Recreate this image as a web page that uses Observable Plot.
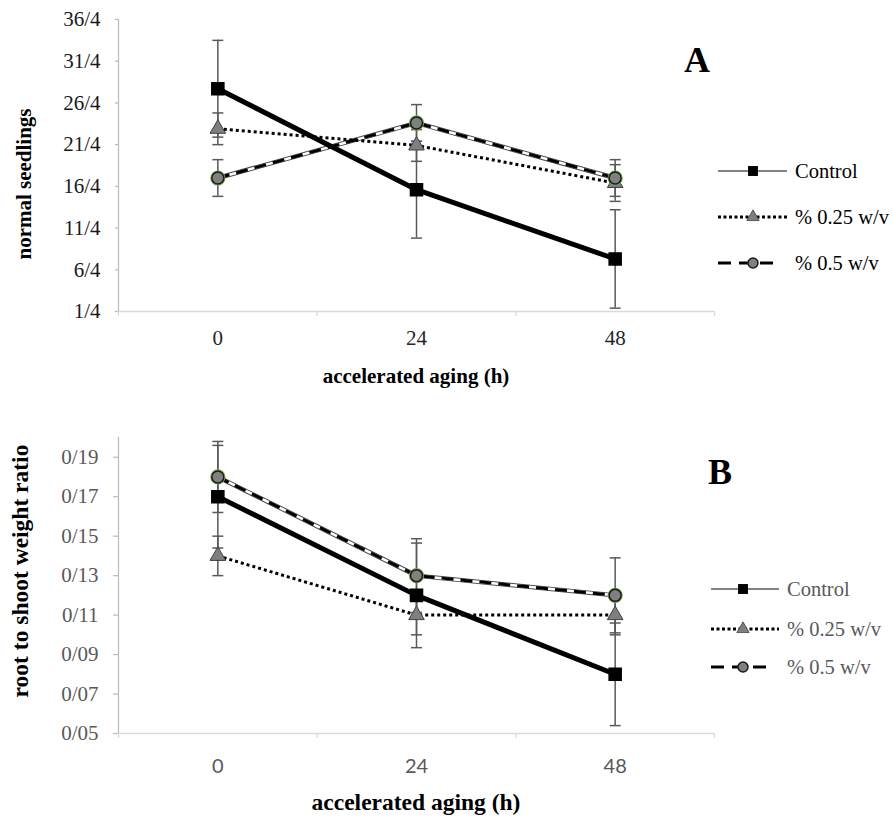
<!DOCTYPE html>
<html>
<head>
<meta charset="utf-8">
<script src="https://cdn.jsdelivr.net/npm/d3@7"></script>
<script src="https://cdn.jsdelivr.net/npm/@observablehq/plot@0.6"></script>
<style>
  body { margin: 0; background: #fff; }
  #chart { width: 893px; }
  #chart svg { display: block; }
</style>
</head>
<body>
<div id="chart"></div>
<script>
// ---------- data ----------
const hours = [0, 24, 48];
const boundaryHours = [-12, 12, 36, 60];
const seriesNames = ["Control", "% 0.25 w/v", "% 0.5 w/v"];

// Panel A: normal seedlings
const seedControl = [28.1, 16.0, 7.7];
const seedControlErr = [5.8, 5.8, 5.9];
const seed025 = [23.3, 21.3, 16.8];
const seed025Err = [1.9, 1.9, 2.2];
const seed05 = [17.4, 24.0, 17.4];
const seed05Err = [2.2, 2.2, 2.2];
const seedTicks = [1.4, 6.4, 11.4, 16.4, 21.4, 26.4, 31.4, 36.4];
const seedTickLabels = ["1/4", "6/4", "11/4", "16/4", "21/4", "26/4", "31/4", "36/4"];

// Panel B: root to shoot weight ratio
const ratioControl = [0.17, 0.12, 0.08];
const ratioControlErr = [0.026, 0.0265, 0.026];
const ratio025 = [0.14, 0.11, 0.11];
const ratio025Err = [0.01, 0.01, 0.01];
const ratio05 = [0.18, 0.13, 0.12];
const ratio05Err = [0.018, 0.0187, 0.019];
const ratioTicks = [0.05, 0.07, 0.09, 0.11, 0.13, 0.15, 0.17, 0.19];
const ratioTickLabels = ["0/05", "0/07", "0/09", "0/11", "0/13", "0/15", "0/17", "0/19"];

// ---------- helpers ----------
const SERIF = "Liberation Serif";
const rows = (vals, errs, series) => hours.map((h, i) => ({hour: h, value: vals[i], err: errs[i], series}));
const capSymbol = {draw(ctx, size) { const w = Math.sqrt(size); ctx.moveTo(-w / 2, 0); ctx.lineTo(w / 2, 0); }};

function makePanel(cfg) {
  const ctrl = rows(cfg.ctrl, cfg.ctrlErr, seriesNames[0]);
  const low = rows(cfg.low, cfg.lowErr, seriesNames[1]);
  const high = rows(cfg.high, cfg.highErr, seriesNames[2]);
  const all = [...ctrl, ...low, ...high];
  const xy = {x: "hour", y: "value"};
  const y0 = cfg.yDomain[0];
  const xTickData = hours.map(h => ({h, y: y0}));
  const yTickData = cfg.yTicks.map((v, i) => ({v, label: cfg.yLabels[i], x: -12}));
  const svgEl = Plot.plot({
    width: 893,
    height: cfg.height,
    marginLeft: 118,
    marginRight: 179,
    marginTop: cfg.marginTop,
    marginBottom: cfg.marginBottom,
    x: {type: "linear", domain: [-12, 60], label: null, axis: null},
    y: {type: "linear", domain: cfg.yDomain, label: null, axis: null},
    style: {fontFamily: SERIF, fontSize: "21px", background: "#fff", overflow: "visible"},
    marks: [
      Plot.ruleY([y0], {stroke: "#d9d9d9", strokeWidth: 1.6}),
      Plot.ruleX([-12], {stroke: "#bfbfbf", strokeWidth: 1.3}),
      Plot.axisX({ticks: boundaryHours, tickSize: 5, tickFormat: () => "", stroke: "#d9d9d9", strokeWidth: 1.3, label: null}),
      Plot.axisY({ticks: cfg.yTicks, tickSize: cfg.yTickLen, tickFormat: () => "", stroke: "#bfbfbf", strokeWidth: 1.3, label: null}),
      // tick labels
      Plot.text(xTickData, {x: "h", y: "y", text: d => String(d.h), lineAnchor: "top", dy: cfg.xPad, textAnchor: "middle",
        fill: cfg.xTickColor, fontSize: cfg.xTickSize, fontFamily: cfg.xTickFont}),
      Plot.text(yTickData, {x: "x", y: "v", text: "label", textAnchor: "end", lineAnchor: "middle", dx: -cfg.yPad,
        fill: cfg.yTickColor, fontSize: 21, fontFamily: SERIF}),
      // error bars
      Plot.ruleX(all, {x: "hour", y1: d => d.value - d.err, y2: d => d.value + d.err, stroke: "#595959", strokeWidth: 1.5}),
      Plot.dot(all, {x: "hour", y: d => d.value + d.err, symbol: capSymbol, r: 6.2, stroke: "#595959", strokeWidth: 1.5, fill: "none"}),
      Plot.dot(all, {x: "hour", y: d => d.value - d.err, symbol: capSymbol, r: 6.2, stroke: "#595959", strokeWidth: 1.5, fill: "none"}),
      // % 0.5 compound dashed line
      Plot.line(high, {...xy, stroke: "#4d4d4d", strokeWidth: 4.5}),
      Plot.line(high, {...xy, stroke: "#fff", strokeWidth: 2.5}),
      Plot.line(high, {...xy, stroke: "#000", strokeWidth: 3, strokeDasharray: "12,7", strokeLinecap: "butt"}),
      // % 0.25 dotted line
      Plot.line(low, {...xy, stroke: "#000", strokeWidth: 3, strokeDasharray: "3,3", strokeLinecap: "butt"}),
      // control thick solid line
      Plot.line(ctrl, {...xy, stroke: "#000", strokeWidth: 5}),
      // markers
      Plot.dot(low, {...xy, symbol: "triangle", r: 5.8, fill: "#7f7f7f", stroke: "#404040", strokeWidth: 1}),
      Plot.dot(high, {...xy, r: 7, fill: "none", stroke: "#70ad47", strokeWidth: 1.2}),
      Plot.dot(high, {...xy, r: 6, fill: "#808080", stroke: "#1a1a1a", strokeWidth: 1.5}),
      Plot.dot(ctrl, {...xy, symbol: "square", r: 6.8, fill: "#000", stroke: "#000"})
    ]
  });

  const svg = d3.select(svgEl);
  // axis titles
  svg.append("text")
    .attr("transform", `translate(${cfg.yTitleX},${cfg.yTitleY}) rotate(-90)`)
    .attr("text-anchor", "middle").attr("font-family", SERIF).attr("font-weight", "bold")
    .attr("font-size", cfg.titleSize).attr("fill", "#000").text(cfg.yTitle);
  svg.append("text")
    .attr("x", 416).attr("y", cfg.xTitleY)
    .attr("text-anchor", "middle").attr("font-family", SERIF).attr("font-weight", "bold")
    .attr("font-size", cfg.titleSize).attr("fill", "#000").text("accelerated aging (h)");
  // panel letter
  svg.append("text")
    .attr("x", cfg.letterX).attr("y", cfg.letterY)
    .attr("text-anchor", "middle").attr("font-family", SERIF).attr("font-weight", "bold")
    .attr("font-size", 36).attr("fill", "#000").text(cfg.letter);

  // legend
  const L = cfg.legend;
  const g = svg.append("g");
  const sym = (type, r) => d3.symbol(type, r * r * Math.PI)();
  L.rows.forEach((y, i) => {
    if (i === 0) {
      g.append("line").attr("x1", L.x1).attr("x2", L.x2).attr("y1", y).attr("y2", y)
        .attr("stroke", "#595959").attr("stroke-width", 1.5);
      g.append("path").attr("d", sym(d3.symbolSquare, 5.6)).attr("transform", `translate(${L.mx},${y})`)
        .attr("fill", "#000");
    } else if (i === 1) {
      g.append("line").attr("x1", L.x1).attr("x2", L.x2).attr("y1", y).attr("y2", y)
        .attr("stroke", "#000").attr("stroke-width", 3).attr("stroke-dasharray", "3,2.5");
      g.append("path").attr("d", sym(d3.symbolTriangle, 4.6)).attr("transform", `translate(${L.mx},${y})`)
        .attr("fill", "#7f7f7f").attr("stroke", "#404040").attr("stroke-width", 0.8);
    } else {
      g.append("line").attr("x1", L.x1).attr("x2", L.x2 - 6).attr("y1", y).attr("y2", y)
        .attr("stroke", "#000").attr("stroke-width", 3).attr("stroke-dasharray", "13,8");
      g.append("circle").attr("cx", L.mx).attr("cy", y).attr("r", 5)
        .attr("fill", "#808080").attr("stroke", "#1a1a1a").attr("stroke-width", 1.5);
    }
    g.append("text").attr("x", L.tx).attr("y", y).attr("dy", "0.35em")
      .attr("text-anchor", "start")
      .attr("font-family", SERIF).attr("font-size", 20.5).attr("fill", L.color)
      .text(seriesNames[i]);
  });
  return svgEl;
}

const chart = document.getElementById("chart");

chart.appendChild(makePanel({
  height: 410, marginTop: 19, marginBottom: 99,
  yDomain: [1.4, 36.4], yTicks: seedTicks, yLabels: seedTickLabels,
  ctrl: seedControl, ctrlErr: seedControlErr,
  low: seed025, lowErr: seed025Err,
  high: seed05, highErr: seed05Err,
  xPad: 19, xTickColor: "#262626", xTickSize: 21, xTickFont: SERIF,
  yTickLen: 3, yPad: 18, yTickColor: "#1a1a1a",
  yTitle: "normal seedlings", yTitleX: 31, yTitleY: 184, xTitleY: 383, titleSize: 21,
  letter: "A", letterX: 697, letterY: 72,
  legend: {rows: [171, 217, 263], x1: 718, x2: 787, mx: 753, tx: 795, color: "#000"}
}));

chart.appendChild(makePanel({
  height: 407, marginTop: 27, marginBottom: 84,
  yDomain: [0.05, 0.20], yTicks: ratioTicks, yLabels: ratioTickLabels,
  ctrl: ratioControl, ctrlErr: ratioControlErr,
  low: ratio025, lowErr: ratio025Err,
  high: ratio05, highErr: ratio05Err,
  xPad: 25, xTickColor: "#595959", xTickSize: 20, xTickFont: "Lato",
  yTickLen: 5, yPad: 20, yTickColor: "#595959",
  yTitle: "root to shoot weight ratio", yTitleX: 28, yTitleY: 161, xTitleY: 400, titleSize: 23.5,
  letter: "B", letterX: 720, letterY: 74,
  legend: {rows: [179, 219, 257], x1: 711, x2: 779, mx: 743, tx: 787, color: "#595959"}
}));
</script>
</body>
</html>
